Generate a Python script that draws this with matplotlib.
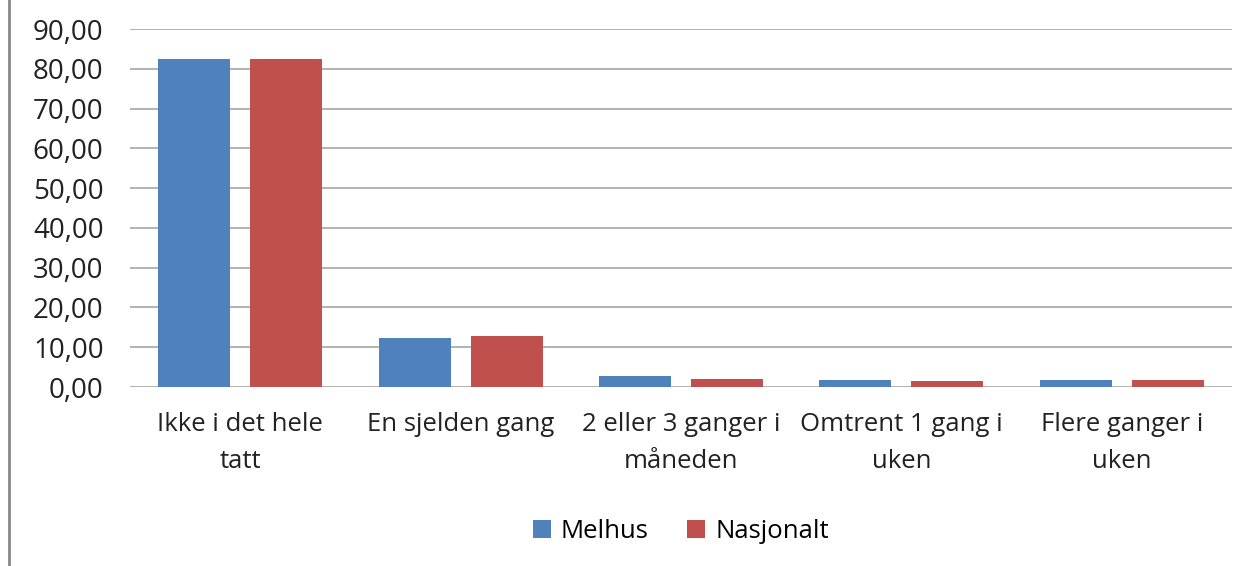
import numpy as np
import matplotlib.pyplot as plt
from matplotlib.lines import Line2D

categories = ["Ikke i det hele\ntatt", "En sjelden gang", "2 eller 3 ganger i\nmåneden",
              "Omtrent 1 gang i\nuken", "Flere ganger i\nuken"]
melhus = [82.5, 12.4, 2.8, 1.8, 1.8]
nasjonalt = [82.5, 12.8, 2.1, 1.4, 1.8]
yticks = np.arange(0, 100, 10)

plt.rcParams['font.family'] = ['Open Sans', 'DejaVu Sans']

fig = plt.figure(figsize=(12.5, 5.66), dpi=100)
ax = fig.add_axes([130 / 1250, 1 - 387 / 566, (1232 - 130) / 1250, (387 - 29) / 566])

x = np.arange(len(categories))
w = 0.327
gap = 0.09
ax.bar(x - (w + gap) / 2, melhus, w, color='#4f81bd', label='Melhus', zorder=3)
ax.bar(x + (w + gap) / 2, nasjonalt, w, color='#c0504d', label='Nasjonalt', zorder=3)

ax.set_xlim(-0.5, len(categories) - 0.5)
ax.set_ylim(0, 90)
ax.set_yticks(yticks)
ax.set_yticklabels([f"{v:.2f}".replace('.', ',') for v in yticks], fontsize=20, color='#222222')
ax.set_xticks(x)
ax.set_xticklabels(categories, fontsize=18.5, color='#222222', linespacing=1.65)
ax.tick_params(axis='both', length=0)
ax.tick_params(axis='y', pad=19)
ax.tick_params(axis='x', pad=18)
ax.yaxis.grid(True, color='#a6a6a6', linewidth=1.2, zorder=0)
for s in ax.spines.values():
    s.set_visible(False)

ax.legend(loc='center', bbox_to_anchor=(0.5, (387 - 531) / (387 - 29)), ncol=2, frameon=False,
          fontsize=18.5, handlelength=0.7, handleheight=0.7, handletextpad=0.4,
          columnspacing=1.5)

fig.add_artist(Line2D([9 / 1250, 9 / 1250], [0, 1], color='#868686', linewidth=2))

fig.savefig('out.png', dpi=100)
